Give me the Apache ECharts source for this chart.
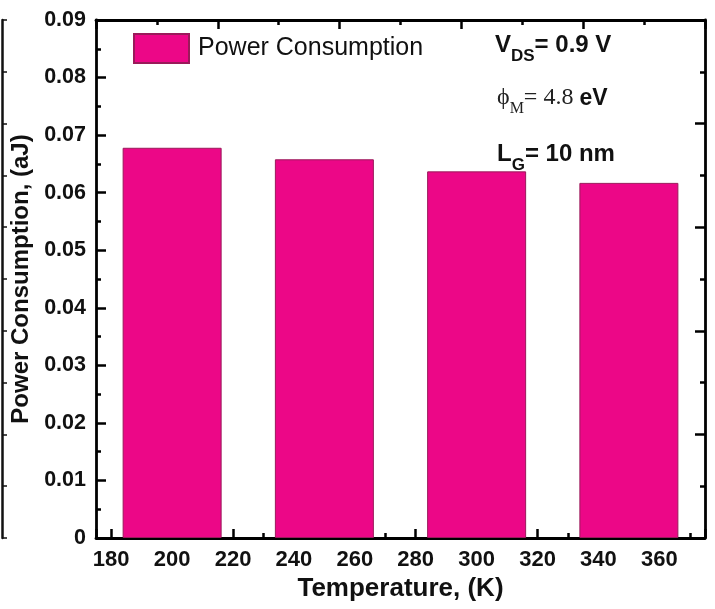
<!DOCTYPE html>
<html>
<head>
<meta charset="utf-8">
<script src="https://cdn.jsdelivr.net/npm/echarts@6/dist/echarts.min.js"></script>
<style>
html,body{margin:0;padding:0;background:#fff;}
#chart{width:715px;height:609px;}
</style>
</head>
<body>
<div id="chart"></div>
<script>
// Data
const temperatures = [200, 250, 300, 350];
const powerConsumption = [0.0678, 0.0658, 0.0637, 0.0617];
const seriesName = 'Power Consumption';
const xTitle = 'Temperature, (K)';
const yTitle = 'Power Consumption, (aJ)';

const SANS = '"Liberation Sans", Arial, sans-serif';
const SERIF = '"Liberation Serif", "Times New Roman", serif';

const chart = echarts.init(document.getElementById('chart'), null, {renderer: 'canvas'});

const axisLineStyle = {color: '#000', width: 2.8};
const tickStyle = {color: '#000', width: 2.5};

const option = {
  animation: false,
  backgroundColor: '#fff',
  grid: {left: 96, right: 10, top: 20, bottom: 71, containLabel: false},
  legend: {
    show: true,
    left: 133, top: 33, padding: 0,
    itemWidth: 55, itemHeight: 29, itemGap: 10,
    icon: 'rect',
    textStyle: {fontSize: 25, color: '#111', fontFamily: SANS, padding: [0, 0, 0, 4]},
    data: [seriesName]
  },
  xAxis: [
    {
      type: 'value', position: 'bottom', min: 175, max: 375, splitNumber: 10,
      axisLine: {show: true, lineStyle: axisLineStyle},
      axisTick: {show: true, inside: true, length: 9, lineStyle: tickStyle},
      minorTick: {show: true, splitNumber: 2, length: 5, lineStyle: tickStyle},
      splitLine: {show: false},
      axisLabel: {show: true, showMinLabel: false, showMaxLabel: false, fontSize: 22, fontWeight: 'bold', color: '#111', fontFamily: SANS, margin: 11},
      name: xTitle, nameLocation: 'middle', nameGap: 38,
      nameTextStyle: {fontSize: 26, fontWeight: 'bold', color: '#111', fontFamily: SANS}
    },
    {
      type: 'value', position: 'top', min: 0, max: 200, interval: 40,
      axisLine: {show: true, onZero: false, lineStyle: axisLineStyle},
      axisTick: {show: true, inside: true, length: 9, lineStyle: tickStyle},
      minorTick: {show: true, splitNumber: 2, length: 5, lineStyle: tickStyle},
      splitLine: {show: false},
      axisLabel: {show: false}
    }
  ],
  yAxis: [
    {
      type: 'value', position: 'left', min: 0, max: 0.09, interval: 0.01,
      axisLine: {show: true, onZero: false, lineStyle: axisLineStyle},
      axisTick: {show: true, inside: true, length: 10, lineStyle: tickStyle},
      minorTick: {show: true, splitNumber: 2, length: 5, lineStyle: tickStyle},
      splitLine: {show: false},
      axisLabel: {fontSize: 21.5, fontWeight: 'bold', color: '#111', fontFamily: SANS, margin: 10,
        formatter: v => (v === 0 ? '0' : v.toFixed(2))},
      name: yTitle, nameLocation: 'middle', nameGap: 60, nameRotate: 90,
      nameTextStyle: {fontSize: 24, fontWeight: 'bold', color: '#111', fontFamily: SANS}
    },
    {
      type: 'value', position: 'right', min: 0, max: 5, interval: 1,
      axisLine: {show: true, onZero: false, lineStyle: axisLineStyle},
      axisTick: {show: true, inside: true, length: 10, lineStyle: tickStyle},
      minorTick: {show: true, splitNumber: 2, length: 5, lineStyle: tickStyle},
      splitLine: {show: false},
      axisLabel: {show: false}
    },
    {
      type: 'value', position: 'left', offset: 94, min: 0, max: 10, interval: 1,
      axisLine: {show: true, onZero: false, lineStyle: {color: '#111', width: 2.5}},
      axisTick: {show: true, inside: true, length: 5, lineStyle: {color: '#111', width: 1.5}},
      splitLine: {show: false},
      axisLabel: {show: false}
    }
  ],
  series: [
    {
      name: seriesName,
      type: 'bar',
      xAxisIndex: 0, yAxisIndex: 0,
      barWidth: 99,
      itemStyle: {color: '#EC0787', borderColor: '#9a1a5a', borderWidth: 1},
      data: temperatures.map((t, i) => [t, powerConsumption[i]])
    }
  ],
  graphic: [
    {
      type: 'text', x: 495, y: 65, z: 100,
      style: {
        text: '{m|V}{s|DS}{m|= 0.9 V}',
        align: 'left', verticalAlign: 'bottom',
        rich: {
          m: {fontSize: 24, fontWeight: 'bold', fontFamily: SANS, fill: '#111', lineHeight: 24, padding: [0, 0, 8, 0], verticalAlign: 'bottom'},
          s: {fontSize: 17, fontWeight: 'bold', fontFamily: SANS, fill: '#111', lineHeight: 17, verticalAlign: 'bottom'}
        }
      }
    },
    {
      type: 'text', x: 497, y: 117, z: 100,
      style: {
        text: '{m|ϕ}{s|M}{m|= 4.8 }{e|eV}',
        align: 'left', verticalAlign: 'bottom',
        rich: {
          m: {fontSize: 24, fontFamily: SERIF, fill: '#222', lineHeight: 24, padding: [0, 0, 7, 0], verticalAlign: 'bottom'},
          s: {fontSize: 16, fontFamily: SERIF, fill: '#222', lineHeight: 16, verticalAlign: 'bottom'},
          e: {fontSize: 23, fontWeight: 'bold', fontFamily: SANS, fill: '#111', lineHeight: 23, padding: [0, 0, 7, 0], verticalAlign: 'bottom'}
        }
      }
    },
    {
      type: 'text', x: 497, y: 174, z: 100,
      style: {
        text: '{m|L}{s|G}{m|= 10 nm}',
        align: 'left', verticalAlign: 'bottom',
        rich: {
          m: {fontSize: 24, fontWeight: 'bold', fontFamily: SANS, fill: '#111', lineHeight: 24, padding: [0, 0, 8, 0], verticalAlign: 'bottom'},
          s: {fontSize: 17, fontWeight: 'bold', fontFamily: SANS, fill: '#111', lineHeight: 17, verticalAlign: 'bottom'}
        }
      }
    }
  ]
};
chart.setOption(option);
</script>
</body>
</html>
